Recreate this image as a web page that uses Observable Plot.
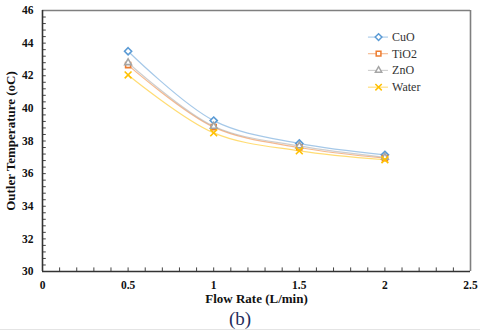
<!DOCTYPE html>
<html><head><meta charset="utf-8">
<script src="https://cdn.jsdelivr.net/npm/d3@7"></script>
<script src="https://cdn.jsdelivr.net/npm/@observablehq/plot@0.6"></script>
<style>
body{margin:0;background:#fff;}
#wrap{position:relative;width:480px;height:331px;overflow:hidden;font-family:"Liberation Serif","Times New Roman",serif;}
#wrap svg, #wrap svg text{font-family:"Liberation Serif","Times New Roman",serif !important;}
#cap{position:absolute;left:0;width:480px;top:308px;text-align:center;font-size:19px;line-height:22px;color:#1f2d5c;font-family:"Liberation Serif",serif;}
#line{position:absolute;left:0;top:329px;width:480px;height:1px;background:#e4e4e4;}
</style></head>
<body><div id="wrap"><div id="cap">(b)</div><div id="line"></div></div>
<script>
const flowRates = [0.5, 1, 1.5, 2];
const seriesNames = ["CuO", "TiO2", "ZnO", "Water"];
const cuo   = [43.5, 39.25, 37.85, 37.15];
const tio2  = [42.65, 38.85, 37.6, 36.95];
const zno   = [42.8, 38.9, 37.7, 37.0];
const water = [42.05, 38.5, 37.4, 36.85];
const yTicks = [30, 32, 34, 36, 38, 40, 42, 44, 46];
const xTicks = [0, 0.5, 1, 1.5, 2, 2.5];

const colors = {CuO:"#5b9bd5", TiO2:"#ed7d31", ZnO:"#a5a5a5", Water:"#ffc000"};
const symbols = {CuO:"diamond2", TiO2:"square2", ZnO:"triangle2", Water:"times"};
const values = {CuO:cuo, TiO2:tio2, ZnO:zno, Water:water};
const FF = "'Liberation Serif', 'Times New Roman', serif";

const data = [];
for (const s of seriesNames) flowRates.forEach((x,i)=>data.push({series:s, x, y:values[s][i]}));

const legRows = [44.37, 43.35, 42.33, 41.3];
const legend = seriesNames.map((s,i)=>({series:s, y:legRows[i]}));

const minorY = d3.range(30, 46.01, 0.4);
const minorX = d3.range(0, 2.501, 0.1);

const marks = [
  Plot.ruleY(minorY, {y:d=>d, x1:0, x2:0.022, stroke:"#444", strokeWidth:1}),
  Plot.ruleX(minorX, {x:d=>d, y1:30, y2:30.22, stroke:"#444", strokeWidth:1}),
  Plot.ruleX([2.5], {stroke:"#7f7f7f", strokeWidth:1.6}),
  Plot.ruleY([46], {stroke:"#7f7f7f", strokeWidth:1.6}),
  Plot.ruleX([0], {stroke:"#333", strokeWidth:1.6}),
  Plot.ruleY([30], {stroke:"#333", strokeWidth:1.6}),
  Plot.axisY({ticks:yTicks, tickSize:0, tickPadding:9, label:null, fontWeight:"bold", fontSize:11.5, fontFamily:FF}),
  Plot.axisX({ticks:xTicks, tickSize:0, tickPadding:9, tickFormat:d=>String(d), label:null, fontWeight:"bold", fontSize:11.5, fontFamily:FF})
];
for (const s of seriesNames) {
  const d = data.filter(r=>r.series===s);
  marks.push(Plot.line(d, {x:"x", y:"y", curve:"catmull-rom", stroke:colors[s], strokeOpacity:0.55, strokeWidth:1.2}));
  marks.push(Plot.dot(d, {x:"x", y:"y", symbol:()=>symbols[s], r:3.2, stroke:colors[s], fill:"white", strokeWidth:1.6}));
}
for (const l of legend) {
  marks.push(Plot.ruleY([l], {y:"y", x1:1.904, x2:2.021, stroke:colors[l.series], strokeOpacity:0.6, strokeWidth:1}));
  marks.push(Plot.dot([l], {x:()=>1.963, y:"y", symbol:()=>symbols[l.series], r:3, stroke:colors[l.series], fill:"white", strokeWidth:1.5}));
  marks.push(Plot.text([l], {x:()=>2.042, y:"y", text:"series", textAnchor:"start", fontSize:12, fill:"#333", fontFamily:FF}));
}
marks.push(Plot.text(["Flow Rate (L/min)"], {x:()=>1.25, y:()=>30, dy:27, text:d=>d, fontWeight:"bold", fontSize:13, fill:"#111", fontFamily:FF}));
marks.push(Plot.text(["Outler Temperature (oC)"], {x:()=>0, y:()=>38, dx:-32, rotate:-90, text:d=>d, fontWeight:"bold", fontSize:13, fill:"#111", fontFamily:FF}));

const chart = Plot.plot({
  width:480, height:331,
  marginLeft:42, marginRight:10, marginTop:10, marginBottom:60,
  x:{domain:[0,2.5]},
  y:{domain:[30,46]},
  style:{fontFamily:FF, color:"#111", background:"transparent", overflow:"visible"},
  marks
});
chart.style.position="absolute"; chart.style.left="0"; chart.style.top="0";
document.getElementById("wrap").prepend(chart);
</script></body></html>
